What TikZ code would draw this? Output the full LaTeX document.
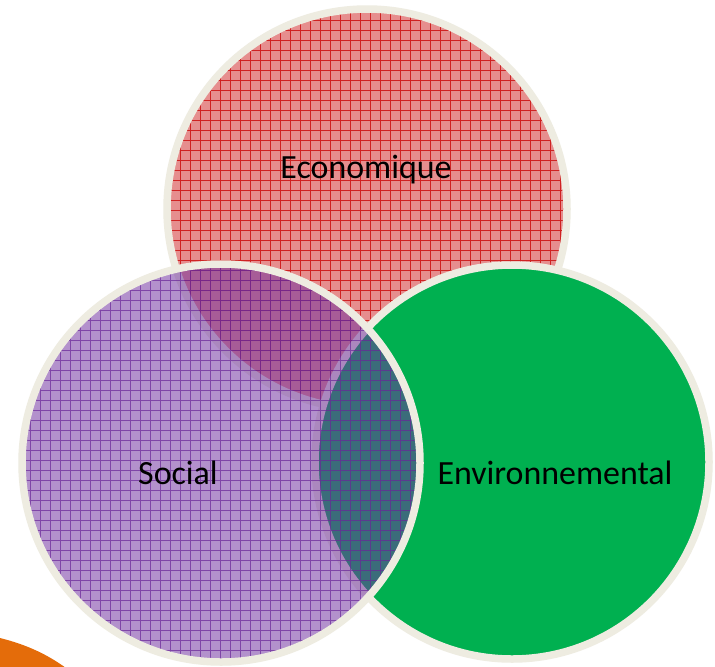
\documentclass[tikz,border=0pt]{standalone}
\usepackage{fontspec}
\setmainfont{Carlito}
\definecolor{rimbeige}{HTML}{EEECE1}
\definecolor{ecored}{HTML}{E68E8E}
\definecolor{ecoline}{HTML}{CC1010}
\definecolor{socpurple}{HTML}{7030A0}
\definecolor{socline}{HTML}{6A2598}
\definecolor{envgreen}{HTML}{00B050}
\definecolor{cornerorange}{HTML}{E46C0A}
\begin{document}
\begin{tikzpicture}[x=0.02cm,y=-0.02cm,
    rim/.style={draw=rimbeige,line width=0.15cm},
    ecogrid/.style={draw=ecoline,line width=0.4pt,step=0.2cm,opacity=0.85},
    socgrid/.style={draw=socline,line width=0.4pt,step=0.2cm,opacity=0.7},
    label/.style={font=\fontsize{19.3}{23}\selectfont,text=black,inner sep=0pt}]
    \useasboundingbox[fill=white] (0,0) rectangle (715,666);
    % orange corner
    \fill[cornerorange] (0,638) .. controls (28,645) and (48,655) .. (66,668) -- (0,668) -- cycle;
    % economique
    \fill[ecored] (367,209) circle[radius=200];
    \begin{scope}
        \clip (367,209) circle[radius=200];
        \draw[ecogrid] (160,420) grid (580,0);
    \end{scope}
    \draw[rim] (367,209) circle[radius=200];
    % environnemental
    \fill[envgreen] (512,462) circle[radius=197];
    \draw[rim] (512,462) circle[radius=197];
    % social
    \fill[socpurple,opacity=0.53] (221,463) circle[radius=199];
    \begin{scope}
        \clip (221,463) circle[radius=199];
        \draw[socgrid] (20,670) grid (430,260);
    \end{scope}
    \draw[rim] (221,463) circle[radius=199];
    % labels
    \node[label] (eco) at (366,170) {Economique};
    \node[label] (soc) at (178,473) {Social};
    \node[label] (env) at (555,473) {Environnemental};
\end{tikzpicture}
\end{document}
